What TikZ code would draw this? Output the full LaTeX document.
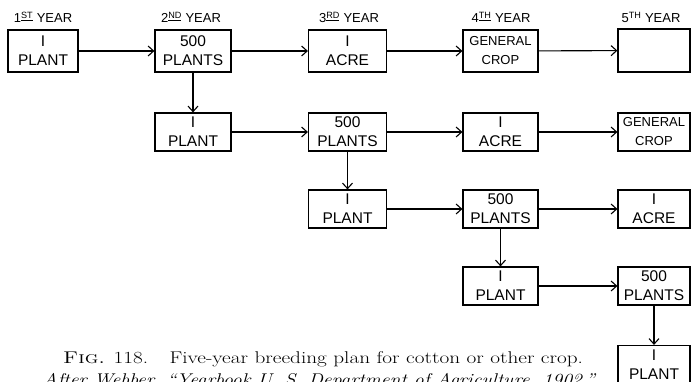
\documentclass[tikz,border=0pt]{standalone}
\usepackage{fontspec}
\newfontfamily\boxfont{Liberation Sans}
\usetikzlibrary{arrows.meta}
\begin{document}
\begin{tikzpicture}[x=1pt,y=-1pt,
  bx/.style={draw, line width=1.2pt, minimum height=38pt, inner sep=0pt, align=center,
    font=\boxfont\fontsize{15.5}{19}\selectfont},
  gen/.style={font=\boxfont\fontsize{13}{19}\selectfont},
  hd/.style={font=\boxfont\fontsize{13}{15}\selectfont, inner sep=0pt, anchor=base},
  ar/.style={-{Straight Barb[length=5.5pt,width=10pt]}, line width=1.1pt},
  captxt/.style={font=\fontsize{17}{21}\selectfont, inner sep=0pt, anchor=base west}]
\useasboundingbox (0,0) rectangle (691,382);
% headers
\node[hd] (h1) at (43,23) {1\textsuperscript{\underline{ST}} YEAR};
\node[hd] (h2) at (191,23) {2\textsuperscript{\underline{ND}} YEAR};
\node[hd] (h3) at (349,23) {3\textsuperscript{\underline{RD}} YEAR};
\node[hd] (h4) at (501,23) {4\textsuperscript{\underline{TH}} YEAR};
\node[hd] (h5) at (651,23) {5\textsuperscript{TH} YEAR};
% row 1
\node[bx, minimum width=70pt, minimum height=42pt] (a1) at (43,51) {I\\PLANT};
\node[bx, minimum width=76pt, minimum height=42pt] (a2) at (193,51) {500\\PLANTS};
\node[bx, minimum width=78pt, minimum height=42pt] (a3) at (347.5,51) {I\\ACRE};
\node[bx, gen, minimum width=75pt, minimum height=42pt] (a4) at (500.5,51) {GENERAL\\CROP};
\node[bx, minimum width=72pt, minimum height=43pt] (a5) at (654,50.5) {};
% row 2
\node[bx, minimum width=76pt] (b2) at (193,132) {I\\PLANT};
\node[bx, minimum width=78pt] (b3) at (347.5,132) {500\\PLANTS};
\node[bx, minimum width=75pt] (b4) at (500.5,132) {I\\ACRE};
\node[bx, gen, minimum width=72pt] (b5) at (654,132) {GENERAL\\CROP};
% row 3
\node[bx, minimum width=78pt] (c3) at (347.5,209) {I\\PLANT};
\node[bx, minimum width=75pt] (c4) at (500.5,209) {500\\PLANTS};
\node[bx, minimum width=72pt] (c5) at (654,209) {I\\ACRE};
% row 4
\node[bx, minimum width=75pt] (d4) at (500.5,286) {I\\PLANT};
\node[bx, minimum width=72pt] (d5) at (654,286) {500\\PLANTS};
% row 5
\node[bx, minimum width=72pt] (e5) at (654,364.5) {I\\PLANT};
% horizontal arrows
\draw[ar] (a1) -- (a2);
\draw[ar] (a2) -- (a3);
\draw[ar] (a3) -- (a4);
\draw[ar] (a4) -- (a5);
\draw[ar] (b2) -- (b3);
\draw[ar] (b3) -- (b4);
\draw[ar] (b4) -- (b5);
\draw[ar] (c3) -- (c4);
\draw[ar] (c4) -- (c5);
\draw[ar] (d4) -- (d5);
% vertical arrows
\draw[ar] (a2) -- (b2);
\draw[ar] (b3) -- (c3);
\draw[ar] (c4) -- (d4);
\draw[ar] (d5) -- (e5);
% caption
\node[captxt] (cap1) at (63,363) {\scalebox{1.25}[1]{\textsc{Fig.} 118.\quad Five-year breeding plan for cotton or other crop.}};
\node[captxt] (cap2) at (43,385) {\scalebox{1.16}[1]{\textit{After Webber, ``Yearbook U. S. Department of Agriculture, 1902.''}}};
\end{tikzpicture}
\end{document}
